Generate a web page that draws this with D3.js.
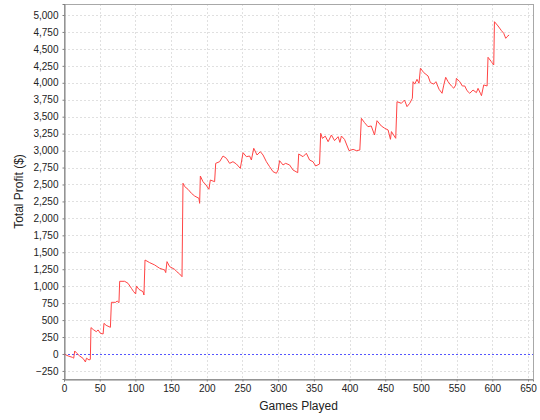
<!DOCTYPE html>
<html><head><meta charset="utf-8">
<script src="https://cdn.jsdelivr.net/npm/d3@7"></script>
<style>
html,body{margin:0;padding:0;background:#fff;}
svg{display:block;}
text{font-family:"Liberation Sans",Arial,sans-serif;fill:#222;}
</style></head>
<body>
<svg id="c" width="540" height="420"></svg>
<script>
const games = [0,6,11.7,13.6,15,18,22,26.6,30,31.5,35,36.9,37.8,41,45.3,47.7,51,54.8,56,59,65,66.4,72.5,74.4,77,78,85,89.7,94.4,97.5,100.4,101.4,105,110.7,112,113.5,120,127,134,141,142.5,144.3,148,155,158,162,165.3,166.7,169,173.7,178.5,183,189,190,191,194.7,199,203,205,211,212.5,218,222.8,227.5,232,236.7,241.5,247,250.8,255.5,260,262.5,265.8,270.4,275,278.8,283.5,288,292.8,297.5,300,302,306.8,310.5,316,320.8,327.4,328.8,334.8,339.5,344,348.8,352.6,358,359.6,362,366,370,374.6,379,384,386.5,388.6,393,399.3,405,409.6,414.4,416.6,421,425.8,430.4,435,438.5,444.5,449.3,454,457.3,458.7,464.7,466.5,472.6,477,480.5,484.3,488,489,491.4,494.5,497.3,499.3,504,510,513.3,518,521,525.4,529.6,532,534.7,538,542.7,546,548.7,549.7,554.4,558,561.4,564.6,568.4,573,577.7,580,583.3,584.8,588,592.7,594,598.6,602,603,608,612.8,616,618.8,620.7,623.5];
const profit = [0,-30,-49,-62,44,10,-30,-64,-118,-62,-88,-80,389,360,329,355,305,295,452,423,393,762,762,782,757,1072,1072,1042,969,920,885,1003,953,919,870,1386,1347,1313,1264,1239,1200,1362,1288,1249,1214,1180,1140,2518,2470,2429,2370,2330,2296,2222,2625,2541,2492,2429,2566,2541,2812,2836,2920,2886,2812,2836,2802,2738,2969,2910,2920,2861,3034,2935,2984,2935,2836,2763,2689,2665,2714,2851,2788,2812,2788,2714,2674,2950,2910,2960,2861,2836,2773,2802,3255,3180,3213,3131,3230,3147,3205,3121,3215,3165,2999,3018,2999,3008,3476,3412,3353,3363,3230,3441,3363,3329,3304,3166,3280,3181,3721,3697,3746,3648,3697,3771,4016,3981,4051,3992,4214,4150,4100,4002,3980,4016,3904,3845,3966,4081,4016,3953,3920,3966,4066,4016,3953,3953,3883,3845,3893,3855,3918,3845,3810,3968,3953,4376,4312,4263,4901,4838,4769,4730,4656,4680,4705];
const xTicks = [0,50,100,150,200,250,300,350,400,450,500,550,600,650];
const yTicks = [-250,0,250,500,750,1000,1250,1500,1750,2000,2250,2500,2750,3000,3250,3500,3750,4000,4250,4500,4750,5000];
const xLabel = "Games Played";
const yLabel = "Total Profit ($)";

const L=64, R=533, T=4, B=379;
const svg = d3.select("#c");
const x = d3.scaleLinear().domain([0,657]).range([L,R]);
const y = d3.scaleLinear().domain([-369,5162]).range([B,T]);
const px = v => Math.round(v)+0.5;

// grid
const g = svg.append("g");
g.selectAll(".vg").data(xTicks.filter(d=>d>0)).join("line")
  .attr("x1",d=>px(x(d))).attr("x2",d=>px(x(d))).attr("y1",T).attr("y2",B)
  .attr("stroke","#e0e0e0").attr("stroke-dasharray","2,2");
g.selectAll(".hg").data(yTicks).join("line")
  .attr("y1",d=>px(y(d))).attr("y2",d=>px(y(d))).attr("x1",L).attr("x2",R)
  .attr("stroke","#e0e0e0").attr("stroke-dasharray","2,2");

// outline
svg.append("rect").attr("x",L+0.5).attr("y",T+0.5).attr("width",R-L).attr("height",B-T)
  .attr("fill","none").attr("stroke","#a8a8a8");

// zero line
svg.append("line").attr("x1",L).attr("x2",R).attr("y1",px(y(0))).attr("y2",px(y(0)))
  .attr("stroke","#5555ff").attr("stroke-dasharray","2,2");

// series
const line = d3.line().x((d,i)=>x(games[i])).y(d=>y(d));
svg.append("path").datum(profit).attr("d",line).attr("fill","none")
  .attr("stroke","#ff4444").attr("stroke-width",1);

// axes
const xa = svg.append("g").attr("transform",`translate(0,${B+0.5})`)
  .call(d3.axisBottom(x).tickValues(xTicks).tickSize(2).tickPadding(3).tickFormat(d3.format("d")));
const ya = svg.append("g").attr("transform",`translate(${L+0.5},0)`)
  .call(d3.axisLeft(y).tickValues(yTicks).tickSize(2).tickPadding(4).tickFormat(d3.format(",")));
[xa,ya].forEach(a=>{
  a.select(".domain").attr("stroke","#808080");
  a.selectAll(".tick line").attr("stroke","#808080");
  a.selectAll("text").style("font-family","'Liberation Sans',Arial,sans-serif").style("font-size","10px").attr("fill","#222");
});

svg.append("text").attr("x",(L+R)/2).attr("y",410).attr("text-anchor","middle")
  .style("font-size","12px").text(xLabel);
svg.append("text").attr("transform",`translate(23,${(T+B)/2}) rotate(-90)`).attr("text-anchor","middle")
  .style("font-size","12px").text(yLabel);
</script>
</body></html>
